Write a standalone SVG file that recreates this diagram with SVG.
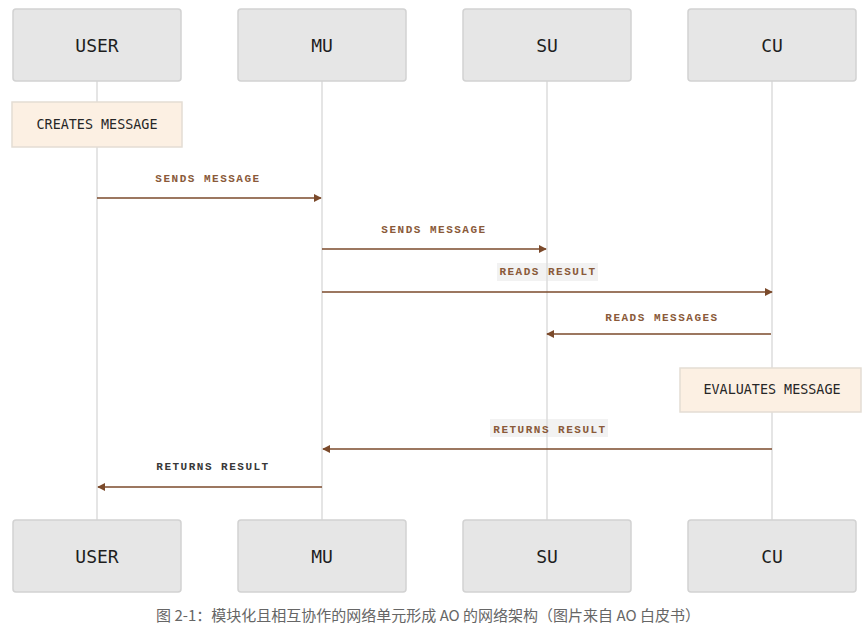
<svg xmlns="http://www.w3.org/2000/svg" width="867" height="631" viewBox="0 0 867 631">
<defs>
<style>
.box{fill:#e6e6e6;stroke:#d2d2d2;stroke-width:1.5}
.blabel{font-family:"DejaVu Sans Mono","Liberation Mono",monospace;font-size:18px;fill:#1e1e1e;text-anchor:middle}
.act{fill:#fcf0e3;stroke:#e4ddd4;stroke-width:1.5}
.alabel{font-family:"DejaVu Sans Mono","Liberation Mono",monospace;font-size:13.4px;fill:#262626;text-anchor:middle}
.life{stroke:#dcdcdc;stroke-width:1.5}
.msg{stroke:#7b4a2b;stroke-width:1.6;fill:none}
.mlabel{font-family:"Liberation Mono","DejaVu Sans Mono",monospace;font-size:11px;font-weight:bold;letter-spacing:1.5px;fill:#8a5a3a;text-anchor:middle}
.lbg{fill:#f2f2f2}
.cap{font-family:"Noto Sans CJK SC","Noto Sans",sans-serif;font-size:15px;fill:#666;text-anchor:middle}
</style>
<marker id="ah" viewBox="0 0 10 10" refX="9" refY="5" markerWidth="5" markerHeight="5" orient="auto-start-reverse" markerUnits="strokeWidth">
<path d="M0,0 L10,5 L0,10 z" fill="#7b4a2b"/>
</marker>
</defs>
<rect width="867" height="631" fill="#ffffff"/>
<g id="lifelines">
<line class="life" x1="97" y1="81" x2="97" y2="520"/>
<line class="life" x1="322" y1="81" x2="322" y2="520"/>
<line class="life" x1="547" y1="81" x2="547" y2="520"/>
<line class="life" x1="772" y1="81" x2="772" y2="520"/>
</g>
<g id="user-top"><rect class="box" x="13" y="9" width="168" height="72" rx="3"/><text class="blabel" x="97" y="52">USER</text></g>
<g id="mu-top"><rect class="box" x="238" y="9" width="168" height="72" rx="3"/><text class="blabel" x="322" y="52">MU</text></g>
<g id="su-top"><rect class="box" x="463" y="9" width="168" height="72" rx="3"/><text class="blabel" x="547" y="52">SU</text></g>
<g id="cu-top"><rect class="box" x="688" y="9" width="168" height="72" rx="3"/><text class="blabel" x="772" y="52">CU</text></g>
<g id="user-bottom"><rect class="box" x="13" y="520" width="168" height="72" rx="3"/><text class="blabel" x="97" y="563">USER</text></g>
<g id="mu-bottom"><rect class="box" x="238" y="520" width="168" height="72" rx="3"/><text class="blabel" x="322" y="563">MU</text></g>
<g id="su-bottom"><rect class="box" x="463" y="520" width="168" height="72" rx="3"/><text class="blabel" x="547" y="563">SU</text></g>
<g id="cu-bottom"><rect class="box" x="688" y="520" width="168" height="72" rx="3"/><text class="blabel" x="772" y="563">CU</text></g>
<g id="creates-message"><rect class="act" x="12" y="102" width="170" height="45"/><text class="alabel" x="97" y="129">CREATES MESSAGE</text></g>
<g id="evaluates-message"><rect class="act" x="680" y="368" width="181" height="44"/><text class="alabel" x="772" y="394">EVALUATES MESSAGE</text></g>
<g id="connectors">
<line class="msg" x1="97" y1="198" x2="321" y2="198" marker-end="url(#ah)"/>
<text class="mlabel" x="208" y="182">SENDS MESSAGE</text>
<line class="msg" x1="322" y1="249" x2="546" y2="249" marker-end="url(#ah)"/>
<text class="mlabel" x="434" y="233">SENDS MESSAGE</text>
<rect class="lbg" x="497" y="263" width="101" height="18"/>
<line class="life" x1="547" y1="263" x2="547" y2="281"/>
<text class="mlabel" x="548" y="275">READS RESULT</text>
<line class="msg" x1="322" y1="292" x2="772" y2="292" marker-end="url(#ah)"/>
<line class="msg" x1="771" y1="334" x2="547" y2="334" marker-end="url(#ah)"/>
<text class="mlabel" x="662" y="321">READS MESSAGES</text>
<rect class="lbg" x="490" y="419" width="118" height="18"/>
<line class="life" x1="547" y1="419" x2="547" y2="437"/>
<text class="mlabel" x="550" y="433">RETURNS RESULT</text>
<line class="msg" x1="772" y1="449" x2="323" y2="449" marker-end="url(#ah)"/>
<text class="mlabel" x="213" y="470" style="fill:#383838">RETURNS RESULT</text>
<line class="msg" x1="322" y1="487" x2="98" y2="487" marker-end="url(#ah)"/>
</g>
<text class="cap" x="428" y="621">图 2-1：模块化且相互协作的网络单元形成 AO 的网络架构（图片来自 AO 白皮书）</text>
</svg>
